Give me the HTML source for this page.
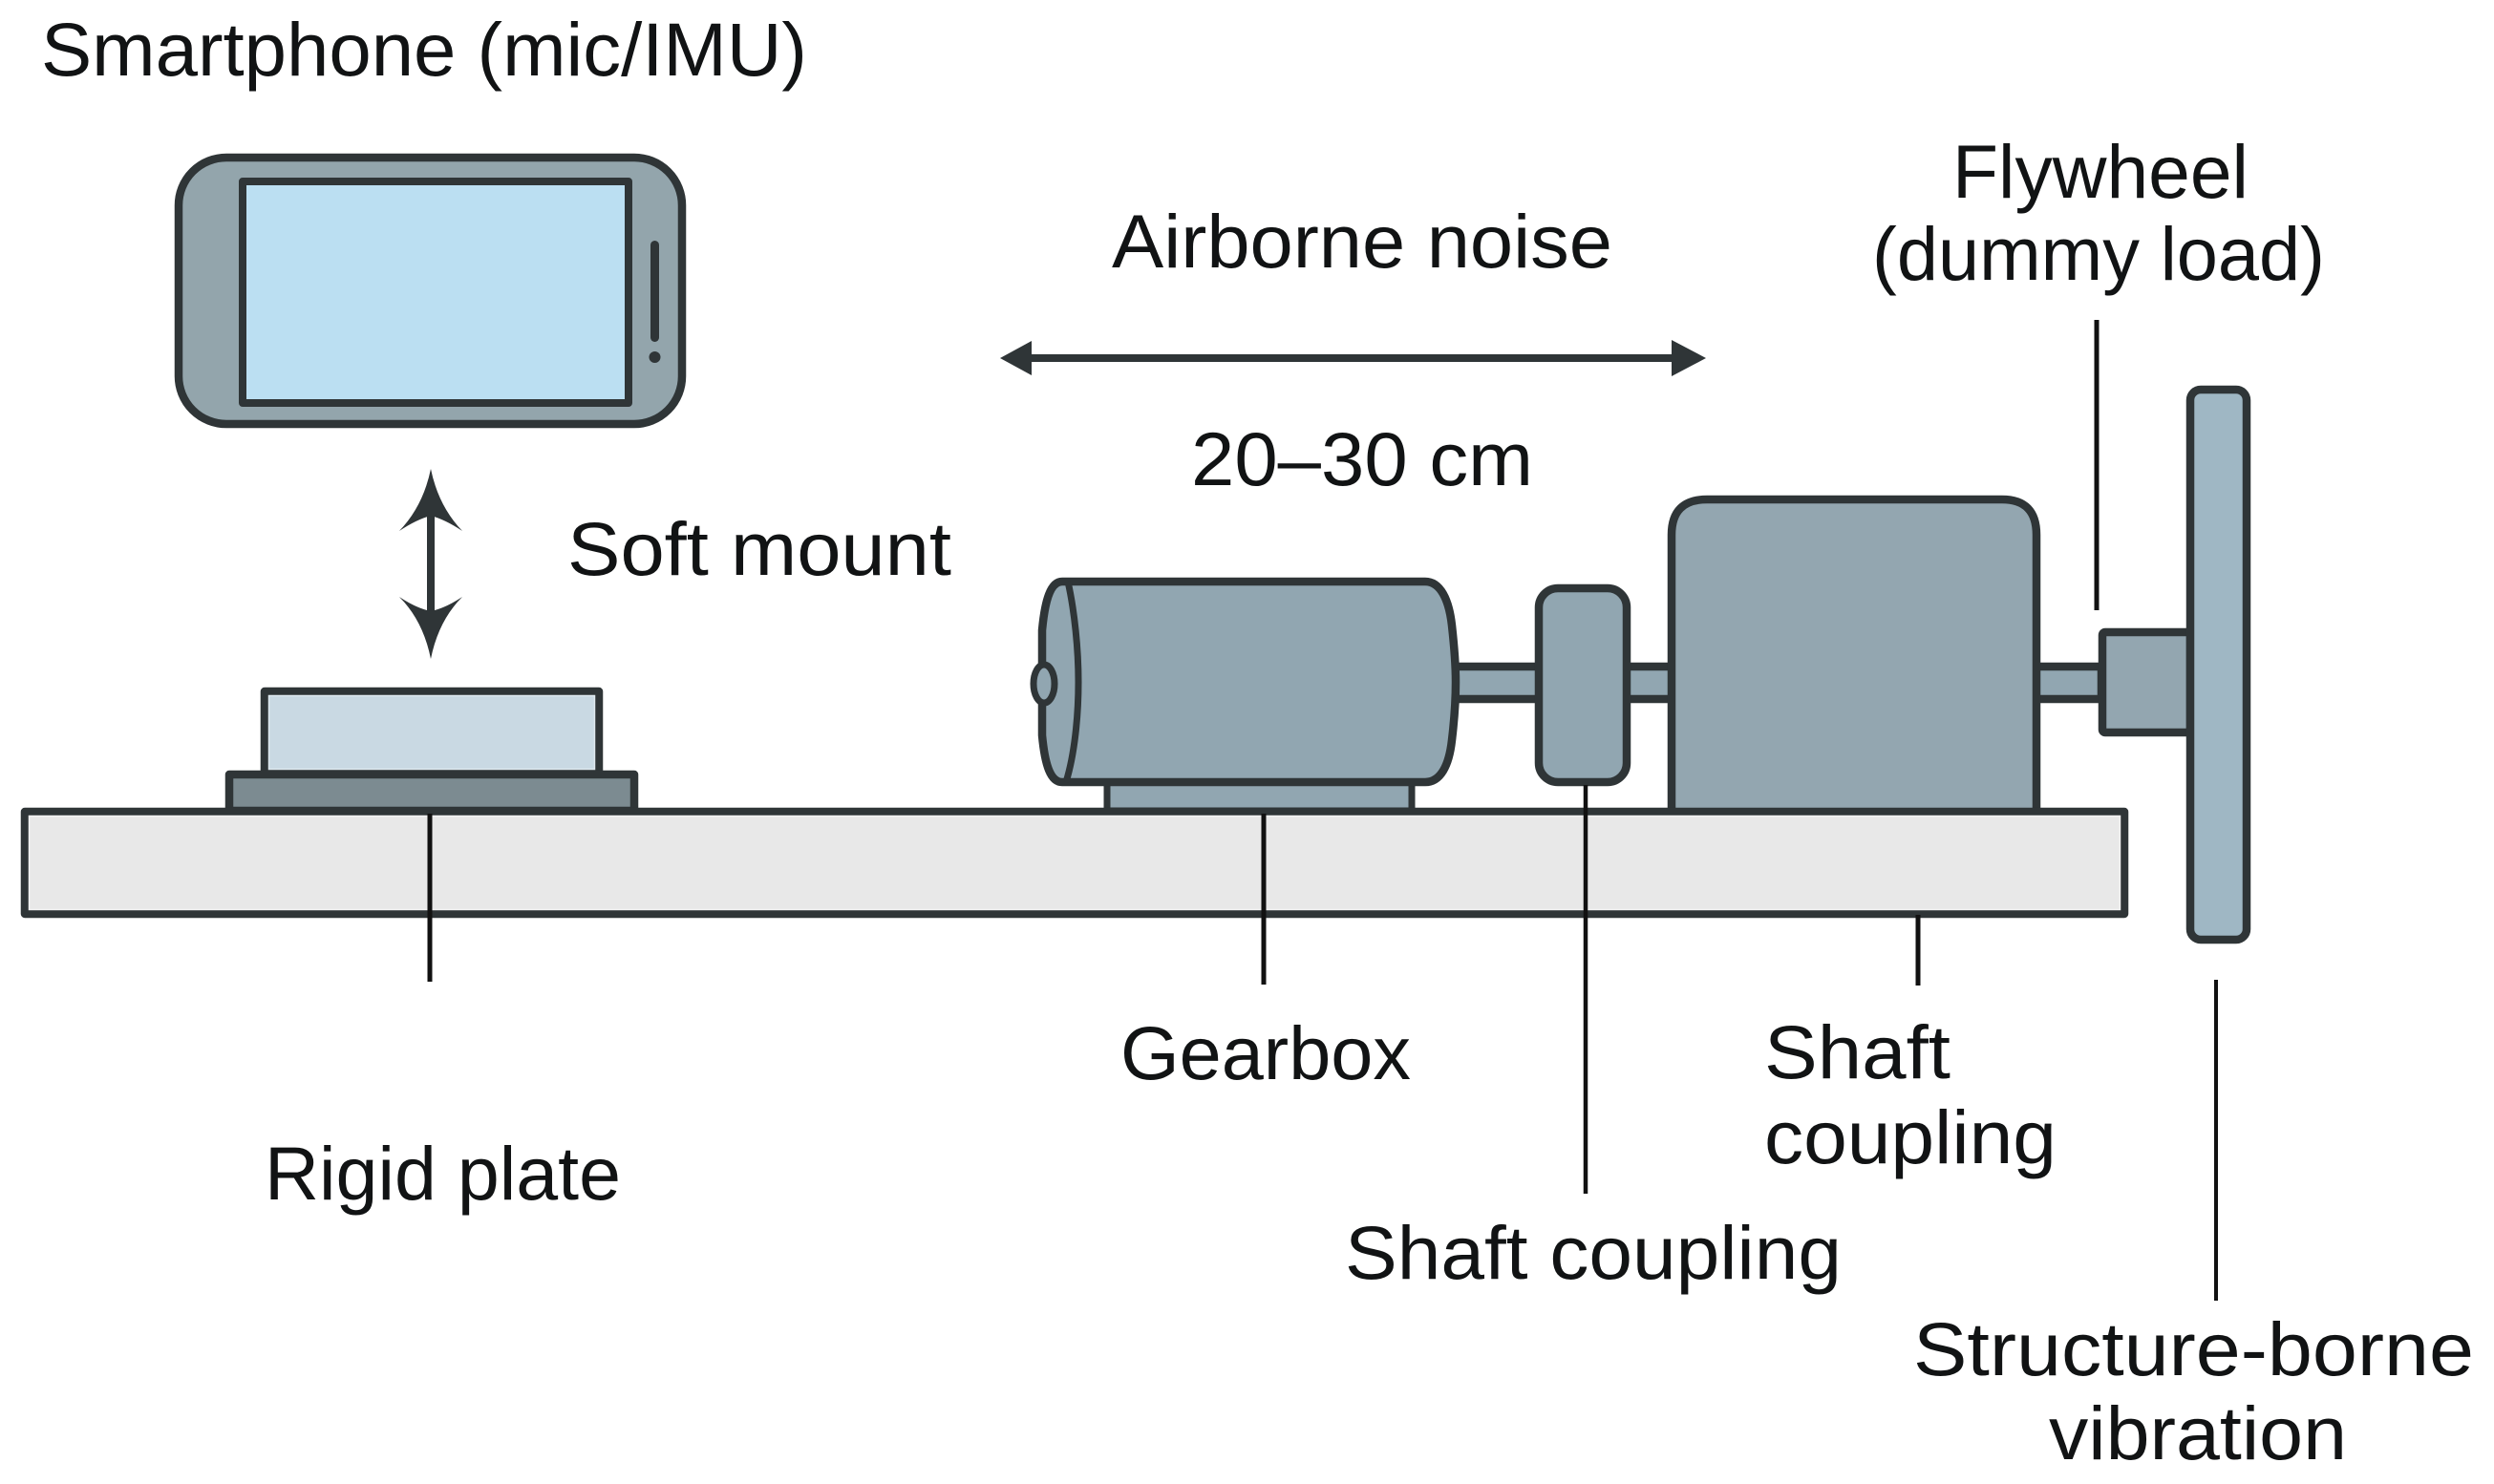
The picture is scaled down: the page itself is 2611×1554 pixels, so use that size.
<!DOCTYPE html>
<html><head><meta charset="utf-8"><style>
html,body{margin:0;padding:0;background:#fff}
svg{display:block}
text{font-family:"Liberation Sans",sans-serif;font-size:79px;fill:#111314}
</style></head><body>
<svg width="2611" height="1554" viewBox="0 0 2611 1554" xmlns="http://www.w3.org/2000/svg">
<rect width="2611" height="1554" fill="#fff"/>
<g stroke="#2f3537" stroke-width="8.5" stroke-linejoin="round">
<!-- phone -->
<rect x="187" y="165" width="527" height="279" rx="50" fill="#93a5ac"/>
<rect x="254" y="190" width="404" height="232" fill="#bbdff2" stroke-width="8"/>
<rect x="681" y="252" width="9" height="106" rx="4.5" fill="#2f3537" stroke="none"/>
<circle cx="685.5" cy="374" r="6" fill="#2f3537" stroke="none"/>
<!-- mount -->
<rect x="277" y="724" width="350" height="86" fill="#c9d9e3"/>
<rect x="240" y="811" width="424" height="38" fill="#7c8b91"/>
<!-- shafts -->
<rect x="1520" y="698" width="235" height="34" fill="#91a6b1"/>
<rect x="2130" y="698" width="70" height="34" fill="#91a6b1"/>
<!-- gearbox -->
<rect x="1159" y="815" width="319" height="34" fill="#91a6b1" stroke-width="7"/>
<path d="M1112,609 H1492 C1508,609 1517,628 1520,655 C1523,682 1524,700 1524,714 C1524,732 1523,750 1520,775 C1517,802 1508,819 1492,819 H1112 C1100,819 1094,802 1091,770 V660 C1094,628 1100,609 1112,609 Z" fill="#91a6b1"/>
<path d="M1118,609 C1125,640 1129,680 1129,714 C1129,750 1125,790 1116,819" fill="none" stroke-width="7"/>
<ellipse cx="1093" cy="716" rx="11" ry="20" fill="#91a6b1" stroke-width="7"/>
<!-- coupling -->
<rect x="1611" y="616" width="92" height="203" rx="20" fill="#91a6b1"/>
<!-- motor -->
<path d="M1750,852 V560 Q1750,523 1787,523 H2096 Q2132,523 2132,560 V852 Z" fill="#93a6b0"/>
<!-- hub + flywheel -->
<rect x="2201" y="662" width="92" height="105" rx="3" fill="#93a6b0"/>
<rect x="2293" y="408" width="59" height="576" rx="11" fill="#9fb7c4"/>
<!-- plate -->
<rect x="26" y="850" width="2198" height="107" fill="#e8e8e8"/>
</g>
<g fill="none" stroke="#f4f4f4" stroke-width="1.5">
<rect x="281.5" y="728.5" width="341" height="77" stroke="#dfe9ef"/>
<rect x="30.5" y="854.5" width="2189" height="98"/>
</g>
<!-- leaders -->
<g stroke="#111" stroke-width="5" fill="none">
<path d="M450,852V1028"/>
<path d="M1323,852V1031"/>
<path d="M1660,822V1250" stroke-width="4.5"/>
<path d="M2008,958V1032"/>
<path d="M2195,335V639"/>
<path d="M2320,1026V1362" stroke-width="4"/>
</g>
<!-- arrows -->
<g fill="#2f3537">
<path d="M447,540H455V640H447Z"/>
<path d="M451,491 Q459,530 484,556 Q466,544 451,540 Q436,544 418,556 Q443,530 451,491 Z"/>
<path d="M451,690 Q459,650 484,625 Q466,637 451,640 Q436,637 418,625 Q443,650 451,690 Z"/>
<rect x="1075" y="371" width="680" height="8"/>
<path d="M1047,375 L1080,357 V393 Z"/>
<path d="M1786,375 L1750,356 V394 Z"/>
</g>
<!-- labels -->
<text x="43" y="79" textLength="802" lengthAdjust="spacingAndGlyphs">Smartphone (mic/IMU)</text>
<text x="594" y="602" textLength="402" lengthAdjust="spacingAndGlyphs">Soft mount</text>
<text x="1164" y="280" textLength="524" lengthAdjust="spacingAndGlyphs">Airborne noise</text>
<text x="1247" y="508" textLength="358" lengthAdjust="spacingAndGlyphs">20–30 cm</text>
<text x="2044" y="207" textLength="310" lengthAdjust="spacingAndGlyphs">Flywheel</text>
<text x="1960" y="293" textLength="474" lengthAdjust="spacingAndGlyphs">(dummy load)</text>
<text x="277" y="1256" textLength="373" lengthAdjust="spacingAndGlyphs">Rigid plate</text>
<text x="1173" y="1130" textLength="304" lengthAdjust="spacingAndGlyphs">Gearbox</text>
<text x="1847" y="1129" textLength="195" lengthAdjust="spacingAndGlyphs">Shaft</text>
<text x="1847" y="1218" textLength="306" lengthAdjust="spacingAndGlyphs">coupling</text>
<text x="1408" y="1339" textLength="520" lengthAdjust="spacingAndGlyphs">Shaft coupling</text>
<text x="2003" y="1440" textLength="587" lengthAdjust="spacingAndGlyphs">Structure-borne</text>
<text x="2145" y="1528" textLength="312" lengthAdjust="spacingAndGlyphs">vibration</text>
</svg>
</body></html>
